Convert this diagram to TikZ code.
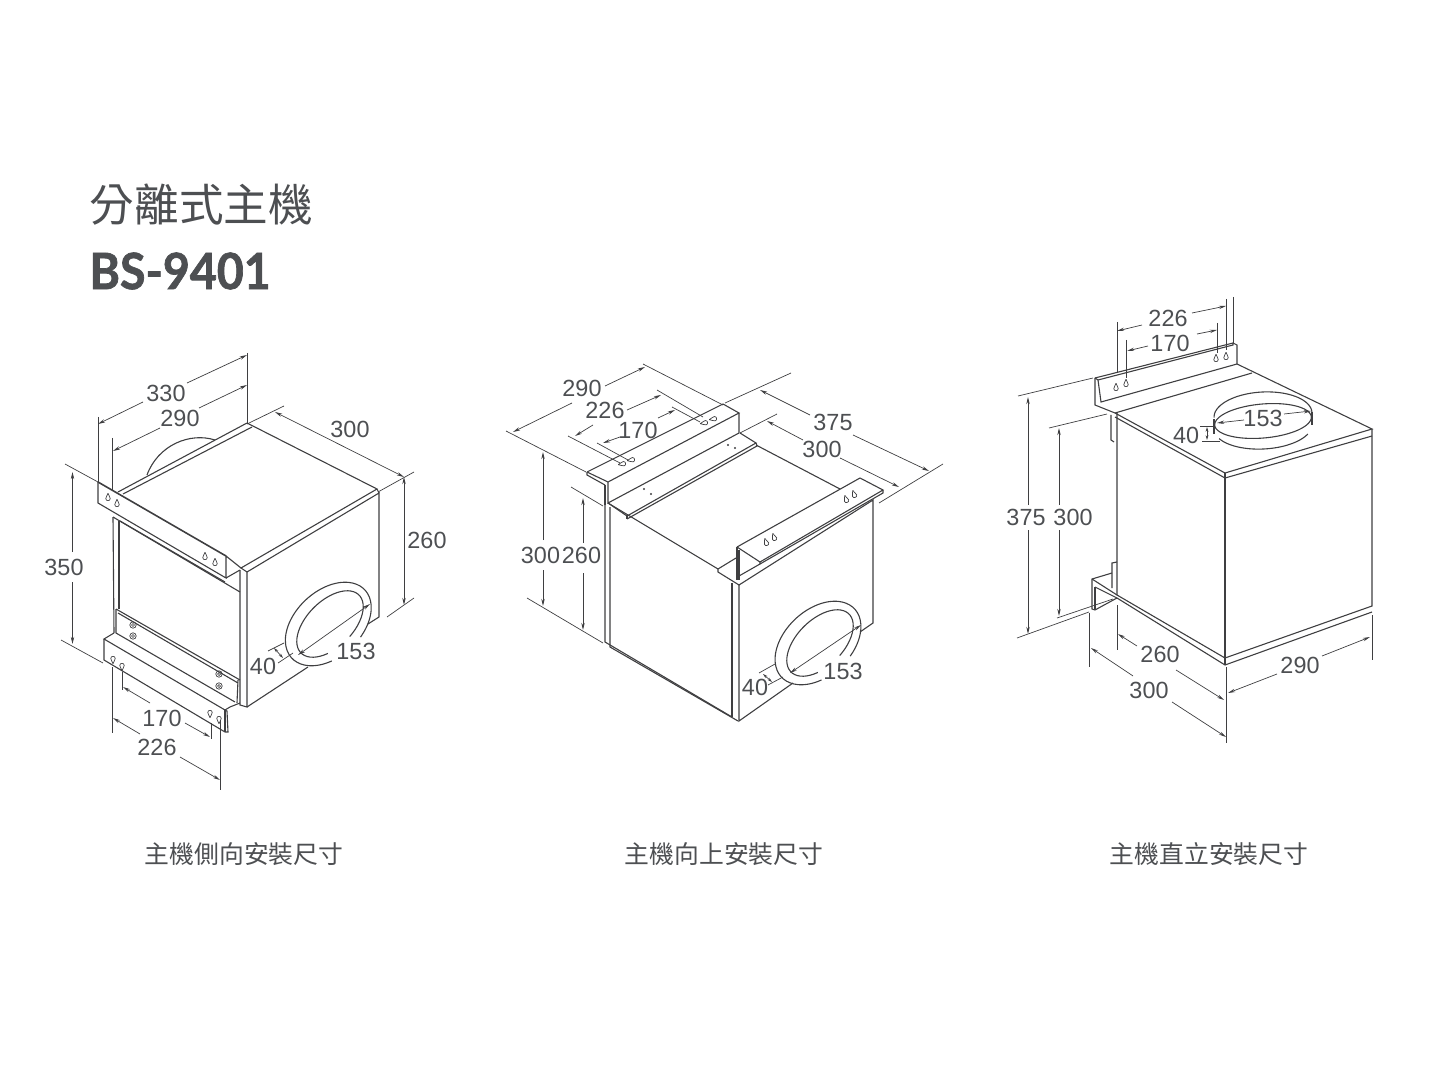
\documentclass[tikz,border=0pt]{standalone}
\usepackage{fontspec}
\usepackage{xcolor}
\setmainfont{Liberation Sans}
\newfontfamily\cjk{Noto Sans CJK TC}
\newfontfamily\modelfont[BoldFeatures={FakeBold=1.4,FakeStretch=.93}]{Lato}
\usetikzlibrary{arrows.meta}
\definecolor{inkgray}{HTML}{3F3F41}
\definecolor{labelgray}{HTML}{4D4F52}
\tikzset{
  body/.style={draw=inkgray,line width=.55pt,line join=miter},
  extline/.style={draw=inkgray,line width=.35pt},
  dimline/.style={draw=inkgray,line width=.35pt,-{Stealth[length=3.6pt,width=1.7pt]}},
  dimboth/.style={draw=inkgray,line width=.35pt,{Stealth[length=3.6pt,width=1.7pt]}-{Stealth[length=3.6pt,width=1.7pt]}},
  dimshort/.style={draw=inkgray,line width=.35pt,{Stealth[length=2.4pt,width=1.4pt]}-{Stealth[length=2.4pt,width=1.4pt]}},
  dimlabel/.style={text=labelgray,font=\fontsize{11.7}{13}\selectfont,inner sep=0pt,yshift=-.1pt},
  caption/.style={text=labelgray,font=\cjk\fontsize{12.4}{14}\selectfont,inner sep=0pt,yshift=-.1pt}
}
% teardrop hole: x, y, turn
\newcommand{\keyhole}[3]{\draw[body,line width=.35pt,shift={(#1,#2)},rotate=#3,scale=.85] (0,-4.5) .. controls (-1,-1) and (-2.6,0) .. (-2.6,2) .. controls (-2.6,5) and (2.6,5) .. (2.6,2) .. controls (2.6,0) and (1,-1) .. (0,-4.5);}
% part of a turned ellipse: cx, cy, a, b, turn, from, to
\newcommand{\ductarc}[7]{\draw[body] plot[smooth,domain=#6:#7,samples=50,variable=\t] ({#1+#3*cos(\t)*cos(#5)+#4*sin(\t)*sin(#5)},{#2-#3*cos(\t)*sin(#5)+#4*sin(\t)*cos(#5)});}
\begin{document}
\begin{tikzpicture}[x=.5pt,y=-.5pt]
  \useasboundingbox (0,0) rectangle (1440,1080);
  % title
  \node[anchor=west,inner sep=0pt,text=labelgray,font=\cjk\fontsize{22.3}{24}\selectfont] (title) at (89.5,205) {分離式主機};
  \node[anchor=west,inner sep=0pt,text=labelgray,font=\modelfont\bfseries\fontsize{25}{28}\selectfont] (model) at (89,271) {BS-9401};

  % ---- side mounting
  \draw[body] (240,570) -- (240,705) -- (247,707) -- (247,572) -- (241,568) -- (377,489) -- (247,423);
  \draw[body] (247,572) -- (379,493) -- (379,617) -- (368,624);
  \draw[body] (247,707) -- (308,667);
  \draw[body] (377,489) -- (379,493);
  \draw[body] (118,492) -- (247,423);
  \draw[body] (123,494) -- (252,427);
  \draw[body] (147,475) .. controls (158,445) and (190,432) .. (215,440);
  % upper bracket
  \draw[body,line width=.8pt] (98,482) -- (226,556);
  \draw[body] (98,482) -- (98,503) -- (226,578) -- (226,556) -- (241,568);
  \draw[body] (226,578) -- (240,570);
  \draw[body] (113,517) -- (240,592);
  \draw[body] (120,521) -- (225,582);
  \draw[body] (113,517) -- (114,633);
  \draw[body] (119,521) -- (119,609);
  % lower bracket
  \draw[body] (116,609) -- (240,680);
  \draw[body] (118,613) -- (238,683);
  \draw[body] (116,609) -- (116,633) -- (235,702);
  \draw[body] (238,680) -- (237,703);
  \draw[body] (114,633) -- (104,639) -- (225,710) -- (230,707) -- (240,703);
  \draw[body] (104,639) -- (104,660) -- (225,732) -- (228,732) -- (227,711) -- (225,710);
  \draw[body] (225,710) -- (225,732);
  \foreach \cx/\cy in {133/625,133/636,219/674,219/686} {
    \draw[body,line width=.35pt] (\cx,\cy) circle (3.2) (\cx,\cy) circle (1.5);
  }
  \foreach \cx/\cy in {108/497,117/503,205/556,215/562} { \keyhole{\cx}{\cy}{0} }
  \foreach \cx/\cy in {113/660,122/667,210/714,219/720} { \keyhole{\cx}{\cy}{180} }
  \ductarc{328.3}{624}{50}{33}{43}{117}{433}
  \ductarc{330}{624}{41}{23}{45}{123}{443}
  % dimensions
  \draw[extline] (98,417) -- (98,482);
  \draw[extline] (112,438) -- (112,490);
  \draw[extline] (247,353) -- (247,424);
  \draw[dimline] (143,402) -- (98,424);
  \draw[dimline] (187,383) -- (247,355);
  \draw[dimline] (160,428) -- (113,451);
  \draw[dimline] (199,408) -- (247,385);
  \node[dimlabel] (side330) at (166,393) {330};
  \node[dimlabel] (side290) at (180,418) {290};
  \draw[extline] (65,464) -- (98,482);
  \draw[extline] (61,640) -- (103,663);
  \draw[dimline] (72.5,552) -- (72.5,472);
  \draw[dimline] (72.5,582) -- (72.5,644);
  \node[dimlabel] (side350) at (64,567) {350};
  \draw[extline] (247,424) -- (284,406);
  \draw[extline] (378,492) -- (414,472);
  \draw[extline] (387,617) -- (414,598);
  \draw[dimboth] (275,412) -- (404,477);
  \draw[dimboth] (404,477) -- (404,605);
  \node[dimlabel] (side300) at (350,429) {300};
  \node[dimlabel] (side260) at (427,540) {260};
  \draw[extline] (268,651) -- (284,643);
  \draw[extline] (278,663) -- (293,653);
  \draw[dimshort] (274,648) -- (283,658);
  \draw[dimboth] (298,655) -- (370,604);
  \node[dimlabel] (side40) at (263,666) {40};
  \node[dimlabel] (side153) at (356,651) {153};
  \draw[extline] (112,667) -- (112,733);
  \draw[extline] (220,720) -- (220,790);
  \draw[extline] (122,672) -- (122,690);
  \draw[extline] (211,723) -- (211,739);
  \draw[dimline] (150,703) -- (123,687);
  \draw[dimline] (185,723) -- (210,737);
  \draw[dimline] (140,734) -- (113,718);
  \draw[dimline] (180,757) -- (220,780);
  \node[dimlabel] (side170) at (162,718) {170};
  \node[dimlabel] (side226) at (157,747) {226};
  \node[caption] (sidecap) at (244,854) {主機側向安裝尺寸};

  % ---- upward mounting
  \draw[body] (587,472) -- (723,404) -- (739,413) -- (608,482) -- (587,472);
  \draw[body] (587,472) -- (587,475) -- (605,485);
  \draw[body] (605,485) -- (605,505);
  \draw[body] (608,482) -- (608,503) -- (739,433) -- (739,413);
  \draw[body] (608,503) -- (627,516) -- (756,443) -- (740,433);
  \draw[body] (627,519) -- (757,446) -- (756,443);
  \draw[body] (627,516) -- (627,519);
  \draw[body] (605,505) -- (605,642) -- (732,717);
  \draw[body] (610,507) -- (610,647) -- (738,721);
  \draw[body] (608,503) -- (718,569);
  \draw[body] (756,445) -- (840,489);
  \foreach \cx/\cy in {644/489,651/494,728/445,735/448} { \fill[inkgray] (\cx,\cy) circle (1.2); }
  % far bracket
  \draw[body] (737,547) -- (860,478) -- (883,490) -- (760,562) -- (737,547);
  \draw[body] (760,564) -- (883,493) -- (883,490);
  \draw[body] (760,562) -- (760,564) -- (739,576);
  \draw[body] (737,547) -- (737,580);
  \draw[body] (739,550) -- (739,580);
  \draw[body] (736,558) -- (718,569) -- (718,572) -- (739,585) -- (873,500) -- (873,623) -- (860,632);
  \draw[body] (732,583) -- (732,717);
  \draw[body] (739,585) -- (739,721) -- (793,683);
  \foreach \cx/\cy in {622/464,631/460,704/423,713/419} { \keyhole{\cx}{\cy}{100} }
  \foreach \cx/\cy in {766/542,774/537,846/499,854/494} { \keyhole{\cx}{\cy}{20} }
  \ductarc{818}{643}{50}{33}{43}{117}{433}
  \ductarc{820}{643}{41}{23}{45}{123}{443}
  % dimensions
  \draw[extline] (506,431) -- (586,472);
  \draw[extline] (643,364) -- (723,405);
  \draw[extline] (568,436) -- (620,463);
  \draw[extline] (657,390) -- (703,417);
  \draw[extline] (597,443) -- (628,460);
  \draw[extline] (672,407) -- (700,422);
  \draw[dimline] (572,403) -- (513,432);
  \draw[dimline] (605,386) -- (645,367);
  \draw[dimline] (593,425) -- (575,436);
  \draw[dimline] (627,410) -- (661,395);
  \draw[dimline] (620,437) -- (603,443);
  \draw[dimline] (658,418) -- (675,410);
  \node[dimlabel] (up290) at (582,388) {290};
  \node[dimlabel] (up226) at (605,410) {226};
  \node[dimlabel] (up170) at (638,430) {170};
  \draw[extline] (571,487) -- (603,506);
  \draw[extline] (527,598) -- (603,643);
  \draw[dimline] (543,540) -- (543,452);
  \draw[dimline] (543,570) -- (543,606);
  \draw[dimline] (583,543) -- (583,498);
  \draw[dimline] (583,573) -- (583,630);
  \node[dimlabel] (up300) at (540.5,555) {300};
  \node[dimlabel] (up260) at (581.5,555) {260};
  \draw[extline] (725,403) -- (791,373);
  \draw[extline] (740,433) -- (777,414);
  \draw[extline] (879,503) -- (943,464);
  \draw[dimline] (810,415) -- (760,390);
  \draw[dimline] (853,435) -- (929,471);
  \draw[dimline] (803,440) -- (767,421);
  \draw[dimline] (840,458) -- (899,487);
  \node[dimlabel] (up375) at (833,422) {375};
  \node[dimlabel] (upback300) at (822,449) {300};
  \draw[extline] (759,673) -- (775,664);
  \draw[extline] (768,685) -- (783,677);
  \draw[dimshort] (763,674) -- (772,682);
  \draw[dimboth] (790,673) -- (861,625);
  \node[dimlabel] (up40) at (755,687) {40};
  \node[dimlabel] (up153) at (843,671) {153};
  \node[caption] (upcap) at (724,854) {主機向上安裝尺寸};

  % ---- upright mounting
  \draw[body] (1095,378) -- (1233,343) -- (1237,345) -- (1237,364) -- (1101,402) -- (1098,380);
  \draw[body] (1098,380) -- (1233,345) -- (1233,343);
  \draw[body] (1095,378) -- (1098,380);
  \draw[body] (1095,378) -- (1095,405) -- (1115,413) -- (1252,373);
  \draw[body] (1237,364) -- (1372,429) -- (1225,473) -- (1115,413);
  \draw[body] (1372,436) -- (1225,478) -- (1115,417);
  \draw[body] (1372,429) -- (1372,606) -- (1225,658);
  \draw[body] (1372,612) -- (1225,665) -- (1117,598);
  \draw[body] (1225,473) -- (1225,665);
  \draw[body] (1117,413) -- (1117,595) -- (1225,658);
  \draw[body] (1111,415) -- (1111,440) -- (1114,442);
  \draw[body] (1117,562) -- (1112,563) -- (1112,588);
  \draw[body] (1112,573) -- (1092,579) -- (1092,609) -- (1095,610) -- (1117,598);
  \draw[body] (1092,579) -- (1117,595);
  \draw[body] (1095,587) -- (1095,610);
  \draw[body] (1095,587) -- (1117,598);
  \foreach \cx/\cy in {1116/387,1126/383,1216/358,1226/356} { \keyhole{\cx}{\cy}{0} }
  % duct
  \ductarc{1263}{421}{48.5}{17}{5}{0}{360}
  \ductarc{1263}{415}{49}{23}{3}{180}{360}
  \ductarc{1263}{427}{49}{22}{3}{25}{155}
  \draw[body] (1214,419) -- (1214,434);
  \draw[body] (1312,412) -- (1312,425);
  % dimensions
  \draw[extline] (1117,322) -- (1117,372);
  \draw[extline] (1226,299) -- (1226,350);
  \draw[extline] (1233,297) -- (1233,343);
  \draw[extline] (1126,340) -- (1126,378);
  \draw[extline] (1217,323) -- (1217,353);
  \draw[dimline] (1142,325) -- (1117,331);
  \draw[dimline] (1192,313) -- (1226,306);
  \draw[dimline] (1148,346) -- (1127,351);
  \draw[dimline] (1197,334) -- (1217,330);
  \node[dimlabel] (up226b) at (1168,318) {226};
  \node[dimlabel] (up170b) at (1170,343) {170};
  \draw[extline] (1018,396) -- (1093,378);
  \draw[extline] (1017,638) -- (1089,612);
  \draw[extline] (1049,428) -- (1107,414);
  \draw[extline] (1057,618) -- (1113,599);
  \draw[dimline] (1028,505) -- (1028,397);
  \draw[dimline] (1028,530) -- (1028,634);
  \draw[dimline] (1059,505) -- (1059,428);
  \draw[dimline] (1059,530) -- (1059,616);
  \node[dimlabel] (st375) at (1026,517) {375};
  \node[dimlabel] (st300) at (1073,517) {300};
  \draw[extline] (1200,426) -- (1215,426);
  \draw[extline] (1202,441) -- (1220,441);
  \draw[dimshort] (1207,427) -- (1207,440);
  \draw[dimline] (1244,420) -- (1217,423);
  \draw[dimline] (1284,414) -- (1311,411);
  \node[dimlabel] (st40) at (1186,435) {40};
  \node[dimlabel] (st153) at (1263,418) {153};
  \draw[extline] (1117,605) -- (1117,650);
  \draw[extline] (1089,613) -- (1089,667);
  \draw[extline] (1226,667) -- (1226,743);
  \draw[extline] (1372,615) -- (1372,660);
  \draw[dimline] (1137,646) -- (1118,634);
  \draw[dimline] (1176,670) -- (1224,700);
  \draw[dimline] (1133,676) -- (1091,648);
  \draw[dimline] (1172,702) -- (1226,737);
  \draw[dimline] (1277,674) -- (1228,693);
  \draw[dimline] (1322,656) -- (1370,637);
  \node[dimlabel] (st260) at (1160,654) {260};
  \node[dimlabel] (stback300) at (1149,690) {300};
  \node[dimlabel] (st290) at (1300,665) {290};
  \node[caption] (stcap) at (1209,854) {主機直立安裝尺寸};
\end{tikzpicture}
\end{document}
